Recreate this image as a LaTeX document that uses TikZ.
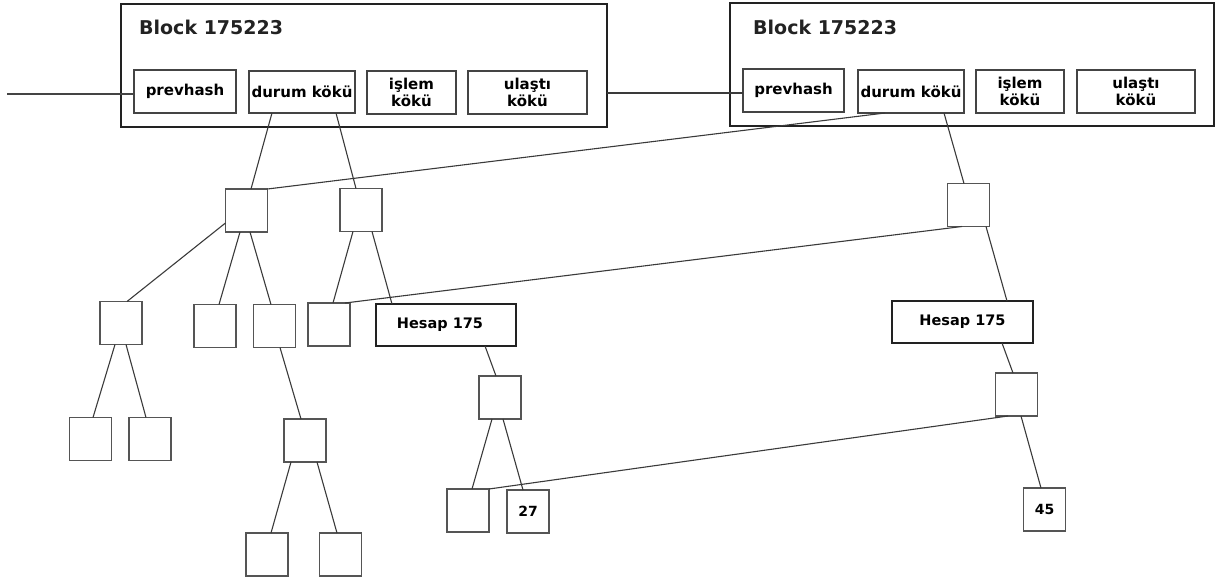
\documentclass[tikz,border=0pt]{standalone}
\usepackage{fontspec}
\setmainfont{DejaVu Sans}
\definecolor{blockcol}{HTML}{222222}
\definecolor{subcol}{HTML}{444444}
\definecolor{leafcol}{HTML}{555555}
\definecolor{linecol}{HTML}{3A3A3A}
\begin{document}
\begin{tikzpicture}[x=1pt,y=-1pt,
  blockbox/.style={draw=blockcol, line width=2pt, inner sep=0pt, outer sep=0pt, fill=white},
  subbox/.style={draw=subcol, line width=1.8pt, inner sep=0pt, outer sep=0pt, fill=white,
    font=\bfseries\fontsize{15}{17}\selectfont, align=center, text=black},
  titletext/.style={inner sep=0pt, font=\bfseries\fontsize{19}{22}\selectfont, text=blockcol},
  leaf/.style={draw=leafcol, line width=1.4pt, inner sep=0pt, outer sep=0pt, fill=white,
    minimum width=42pt, minimum height=43pt, font=\bfseries\fontsize{14}{16}\selectfont},
  acct/.style={draw=blockcol, line width=2.3pt, inner sep=0pt, outer sep=0pt, fill=white,
    minimum height=42pt, font=\bfseries\fontsize{14.5}{16}\selectfont},
  conn/.style={draw=linecol, line width=1.1pt},
  chain/.style={draw=subcol, line width=1.8pt}
]
\useasboundingbox (0,0) rectangle (1216,581);

% ---------- connectors first (drawn under boxes) ----------
\coordinate (start) at (7,94);

% ---------- left block ----------
\node[blockbox, minimum width=486pt, minimum height=123pt] (blkL) at (364,65.5) {};
\node[titletext, anchor=west] (titleL) at (139,27) {Block 175223};
\node[subbox, minimum width=102pt, minimum height=43pt] (prevL) at (185,91.5) {prevhash};
\node[subbox, minimum width=106pt, minimum height=42pt] (durL) at (302,92) {durum kökü};
\node[subbox, minimum width=89pt, minimum height=43pt] (islL) at (411.5,92.5) {işlem\\kökü};
\node[subbox, minimum width=119pt, minimum height=43pt] (ulaL) at (527.5,92.5) {ulaştı\\kökü};

% ---------- right block ----------
\node[blockbox, minimum width=484pt, minimum height=123pt] (blkR) at (972,64.5) {};
\node[titletext, anchor=west] (titleR) at (753,27) {Block 175223};
\node[subbox, minimum width=101pt, minimum height=43pt] (prevR) at (793.5,90.5) {prevhash};
\node[subbox, minimum width=106pt, minimum height=43pt] (durR) at (911,91.5) {durum kökü};
\node[subbox, minimum width=88pt, minimum height=43pt] (islR) at (1020,91.5) {işlem\\kökü};
\node[subbox, minimum width=118pt, minimum height=43pt] (ulaR) at (1136,91.5) {ulaştı\\kökü};

% ---------- left tree ----------
\node[leaf] (A) at (246.5,210.5) {};
\node[leaf] (B) at (361,210) {};
\node[leaf] (C) at (121,323) {};
\node[leaf] (D) at (215,326) {};
\node[leaf] (E) at (274.5,326) {};
\node[leaf] (F) at (329,324.5) {};
\node[acct, minimum width=140pt] (HL) at (446,325) {\hspace*{-12pt}Hesap 175};
\node[leaf] (G) at (90.5,439) {};
\node[leaf] (H) at (150,439) {};
\node[leaf] (I) at (305,440.5) {};
\node[leaf] (J) at (267,554.5) {};
\node[leaf] (K) at (340.5,554.5) {};
\node[leaf] (L) at (500,397.5) {};
\node[leaf] (M) at (468,510.5) {};
\node[leaf] (N) at (528,511.5) {27};

% ---------- right tree ----------
\node[leaf] (R1) at (968.5,205) {};
\node[acct, minimum width=141pt] (HR) at (962.5,322) {Hesap 175};
\node[leaf] (R3) at (1016.5,394.5) {};
\node[leaf] (Q) at (1044.5,509.5) {45};

% ---------- connectors ----------
\draw[chain] (start) -- (start -| prevL.west);
\draw[conn] ([yshift=-2.5pt]prevR.west) -- ([yshift=-2.5pt]prevR.west -| blkL.east);

\draw[conn] ([xshift=-30pt]durL.south) -- ([xshift=4.5pt]A.north);
\draw[conn] ([xshift=34pt]durL.south) -- ([xshift=-5pt]B.north);
\draw[conn] ([xshift=-26pt]durR.south) -- (A.north east);
\draw[conn] ([xshift=33pt]durR.south) -- ([xshift=-4.5pt]R1.north);

\draw[conn] ([yshift=-12.5pt]A.west) -- ([xshift=6pt]C.north);
\draw[conn] ([xshift=-6.5pt]A.south) -- ([xshift=4pt]D.north);
\draw[conn] ([xshift=3.5pt]A.south) -- ([xshift=-3.5pt]E.north);
\draw[conn] ([xshift=-8pt]B.south) -- ([xshift=4pt]F.north);
\draw[conn] ([xshift=11pt]B.south) -- ([xshift=-54pt]HL.north);
\draw[conn] ([xshift=-6.5pt]R1.south) -- ([xshift=16pt]F.north);

\draw[conn] ([xshift=-6pt]C.south) -- ([xshift=2.5pt]G.north);
\draw[conn] ([xshift=5pt]C.south) -- ([xshift=-4pt]H.north);
\draw[conn] ([xshift=5.5pt]E.south) -- ([xshift=-4pt]I.north);
\draw[conn] ([xshift=-14pt]I.south) -- ([xshift=4pt]J.north);
\draw[conn] ([xshift=12pt]I.south) -- ([xshift=-3.5pt]K.north);

\draw[conn] ([xshift=39pt]HL.south) -- ([xshift=-4pt]L.north);
\draw[conn] ([xshift=-8pt]L.south) -- ([xshift=4pt]M.north);
\draw[conn] ([xshift=3pt]L.south) -- ([xshift=-5pt]N.north);
\draw[conn] ([xshift=-8.5pt]R3.south) -- (M.north east);

\draw[conn] ([xshift=17.5pt]R1.south) -- ([xshift=44.5pt]HR.north);
\draw[conn] ([xshift=39.5pt]HR.south) -- ([xshift=-3.5pt]R3.north);
\draw[conn] ([xshift=4.5pt]R3.south) -- ([xshift=-3.5pt]Q.north);
\end{tikzpicture}
\end{document}
